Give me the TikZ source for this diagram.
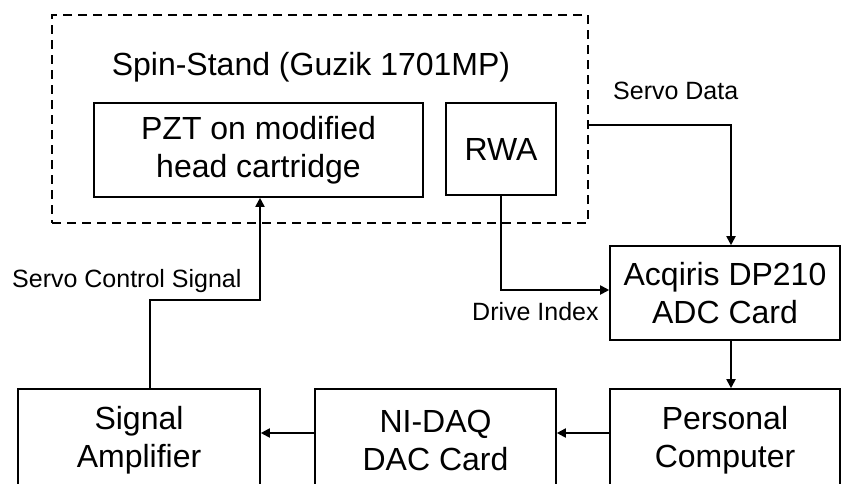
\documentclass[tikz,border=0pt]{standalone}
\usepackage{fontspec}
\setmainfont{Liberation Sans}
\usetikzlibrary{arrows.meta,calc}
\begin{document}
\begin{tikzpicture}[x=1pt,y=-1pt,
  box/.style={draw,line width=1.6pt,inner sep=0pt,align=center,
    font=\fontsize{32}{38}\selectfont},
  arr/.style={line width=1.8pt,-{Triangle[length=9pt,width=9pt]}},
  conn/.style={line width=1.8pt},
  lbl/.style={inner sep=0pt,font=\fontsize{25}{30}\selectfont},
]
\useasboundingbox (0,0) rectangle (842,483);
\node[draw,dashed,line width=1.8pt,dash pattern=on 9pt off 6pt,minimum width=536pt,minimum height=208pt,inner sep=0pt] (spin) at (320,119) {};
\node[anchor=base,inner sep=0pt,font=\fontsize{32}{38}\selectfont] (title) at (311,75) {Spin-Stand (Guzik 1701MP)};
\node[box,minimum width=329pt,minimum height=94pt] (pzt) at (258.5,150) {PZT on modified\\head cartridge};
\node[box,minimum width=110pt,minimum height=92pt] (rwa) at (501,149) {RWA};
\node[box,minimum width=230pt,minimum height=94pt] (acq) at (725,293) {Acqiris DP210\\ADC Card};
\node[box,minimum width=230pt,minimum height=102pt] (pc) at (725,440) {Personal\\Computer};
\node[box,minimum width=241pt,minimum height=102pt] (daq) at (435.5,440) {NI-DAQ\\DAC Card};
\node[box,minimum width=242pt,minimum height=102pt] (amp) at (139,440) {Signal\\Amplifier};
\node[lbl,anchor=base west] (sdl) at (613,99) {Servo Data};
\node[lbl,anchor=base west] (dil) at (472,320) {Drive Index};
\node[lbl,anchor=base west] (scl) at (12,287) {Servo Control Signal};
\coordinate (sd) at (731,125);
\coordinate (di) at (501,290);
\coordinate (row) at (0,433);
\coordinate (sc) at (150,300);
\coordinate (scx) at (260,300);
\draw[arr] (spin.east |- sd) -- (sd) -- (sd |- acq.north);
\draw[arr] (rwa.south) -- (di) -- (di -| acq.west);
\draw[arr] (acq.south -| sd) -- (pc.north -| sd);
\draw[arr] (pc.west |- row) -- (daq.east |- row);
\draw[arr] (daq.west |- row) -- (amp.east |- row);
\draw[arr] (sc |- amp.north) -- (sc) -- (scx) -- (scx |- pzt.south);
\end{tikzpicture}
\end{document}
